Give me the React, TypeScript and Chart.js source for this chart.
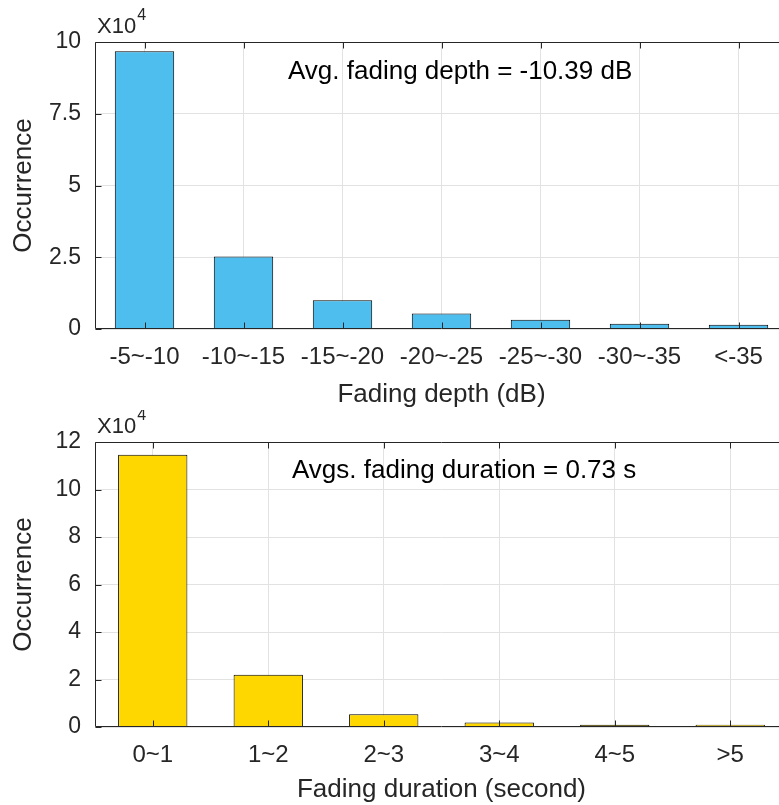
import React, { useEffect, useRef } from 'react';
import { Chart, registerables } from 'chart.js';

Chart.register(...registerables);

// ---- Data ----
const depthCategories = ['-5~-10', '-10~-15', '-15~-20', '-20~-25', '-25~-30', '-30~-35', '<-35'];
const depthCounts = [96800, 25300, 10000, 5400, 3200, 1800, 1500];
const depthTicks = [0, 25000, 50000, 75000, 100000];
const depthTickLabels = ['0', '2.5', '5', '7.5', '10'];

const durationCategories = ['0~1', '1~2', '2~3', '3~4', '4~5', '>5'];
const durationCounts = [114600, 22000, 5400, 1900, 900, 1000];
const durationTicks = [0, 20000, 40000, 60000, 80000, 100000, 120000];
const durationTickLabels = ['0', '2', '4', '6', '8', '10', '12'];

const depthNote = 'Avg. fading depth = -10.39 dB';
const durationNote = 'Avgs. fading duration = 0.73 s';
const exponentText = '4';

const AXIS = '#262626';
const GRID = '#e2e2e2';
const FAMILY = '"Liberation Sans", Arial, sans-serif';
const XTICK_FONT = { family: FAMILY, size: 24 };
const YTICK_FONT = { family: FAMILY, size: 23 };
const TITLE_FONT = { family: FAMILY, size: 26 };

const matlabAxes = {
  id: 'matlabAxes',
  afterDatasetsDraw(chart: any, _args: any, opts: any) {
    const { ctx, chartArea: a, scales } = chart;
    const x = scales.x;
    const y = scales.y;
    ctx.save();
    ctx.strokeStyle = AXIS;
    ctx.lineWidth = 1;
    const L = Math.round(a.left) + 0.5;
    const R = Math.round(a.right) - 0.5;
    const T = Math.round(a.top) + 0.5;
    const B = Math.round(a.bottom) - 0.5;
    ctx.beginPath();
    ctx.moveTo(L, T); ctx.lineTo(R, T); ctx.lineTo(R, B); ctx.lineTo(L, B); ctx.closePath();
    const tl = 6;
    x.ticks.forEach((_t: any, i: number) => {
      const px = Math.round(x.getPixelForTick(i)) + 0.5;
      ctx.moveTo(px, B); ctx.lineTo(px, B - tl);
      ctx.moveTo(px, T); ctx.lineTo(px, T + tl);
    });
    y.ticks.forEach((_t: any, i: number) => {
      const py = Math.round(y.getPixelForTick(i)) + 0.5;
      ctx.moveTo(L, py); ctx.lineTo(L + tl, py);
      ctx.moveTo(R, py); ctx.lineTo(R - tl, py);
    });
    ctx.stroke();

    // exponent label
    ctx.fillStyle = AXIS;
    ctx.textAlign = 'left';
    ctx.textBaseline = 'alphabetic';
    ctx.font = `22px ${FAMILY}`;
    const ex = a.left + 2;
    ctx.fillText('X10', ex, a.top - 9);
    const w = ctx.measureText('X10').width;
    ctx.font = `16px ${FAMILY}`;
    ctx.fillText(opts.exponent, ex + w + 1, a.top - 22);

    // annotation
    ctx.fillStyle = '#000000';
    ctx.font = `26px ${FAMILY}`;
    ctx.fillText(opts.note, a.left + opts.noteDx, a.top + opts.noteDy);
    ctx.restore();
  },
};

function makeConfig(
  labels: string[],
  values: number[],
  color: string,
  ticks: number[],
  tickLabels: string[],
  xTitle: string,
  note: string,
  noteDx: number,
  noteDy: number,
  padTop: number,
  xHeight: number,
  titlePadBottom: number
): any {
  return {
    type: 'bar',
    data: {
      labels,
      datasets: [
        {
          data: values,
          backgroundColor: color,
          borderColor: '#000000',
          borderWidth: 1,
          borderSkipped: 'bottom',
          barPercentage: 0.6,
          categoryPercentage: 1,
        },
      ],
    },
    options: {
      animation: false,
      responsive: false,
      maintainAspectRatio: false,
      layout: { padding: { top: padTop, left: 0, right: 0, bottom: 0 } },
      plugins: {
        legend: { display: false },
        tooltip: { enabled: false },
        matlabAxes: { exponent: exponentText, note, noteDx, noteDy },
      },
      scales: {
        x: {
          type: 'category',
          offset: true,
          grid: { offset: false, color: GRID, drawTicks: false },
          border: { display: false },
          ticks: {
            color: AXIS,
            font: XTICK_FONT,
            padding: 14,
            maxRotation: 0,
            autoSkip: false,
          },
          title: {
            display: true,
            text: xTitle,
            color: AXIS,
            font: TITLE_FONT,
            padding: { top: 0, bottom: titlePadBottom },
          },
          afterFit: (s: any) => {
            s.height = xHeight;
          },
        },
        y: {
          min: ticks[0],
          max: ticks[ticks.length - 1],
          afterBuildTicks: (s: any) => {
            s.ticks = ticks.map((v) => ({ value: v }));
          },
          grid: { color: GRID, drawTicks: false },
          border: { display: false },
          ticks: {
            color: AXIS,
            font: YTICK_FONT,
            padding: 14,
            callback: (v: number) => tickLabels[ticks.indexOf(v)] ?? '',
          },
          title: {
            display: true,
            text: 'Occurrence',
            color: AXIS,
            font: TITLE_FONT,
            padding: { top: 8, bottom: 0 },
          },
          afterFit: (s: any) => {
            s.width = 95;
          },
        },
      },
    },
    plugins: [matlabAxes],
  };
}

function ChartCanvas(props: { config: () => any; top: number; height: number }) {
  const ref = useRef<HTMLCanvasElement | null>(null);
  useEffect(() => {
    if (!ref.current) return;
    const chart = new Chart(ref.current, props.config());
    return () => chart.destroy();
  }, []);
  return (
    <canvas
      ref={ref}
      width={788}
      height={props.height}
      style={{ position: 'absolute', left: 0, top: props.top, width: 788, height: props.height, display: 'block' }}
    />
  );
}

export default function App() {
  return (
    <div
      style={{
        position: 'fixed',
        left: 0,
        top: 0,
        width: 779,
        height: 805,
        overflow: 'hidden',
        background: '#ffffff',
      }}
    >
      <ChartCanvas
        top={0}
        height={410}
        config={() =>
          makeConfig(
            depthCategories,
            depthCounts,
            '#4DBEEE',
            depthTicks,
            depthTickLabels,
            'Fading depth (dB)',
            depthNote,
            193,
            37,
            42,
            81,
            0
          )
        }
      />
      <ChartCanvas
        top={410}
        height={395}
        config={() =>
          makeConfig(
            durationCategories,
            durationCounts,
            '#FFD700',
            durationTicks,
            durationTickLabels,
            'Fading duration (second)',
            durationNote,
            197,
            36,
            32,
            78,
            0
          )
        }
      />
    </div>
  );
}
